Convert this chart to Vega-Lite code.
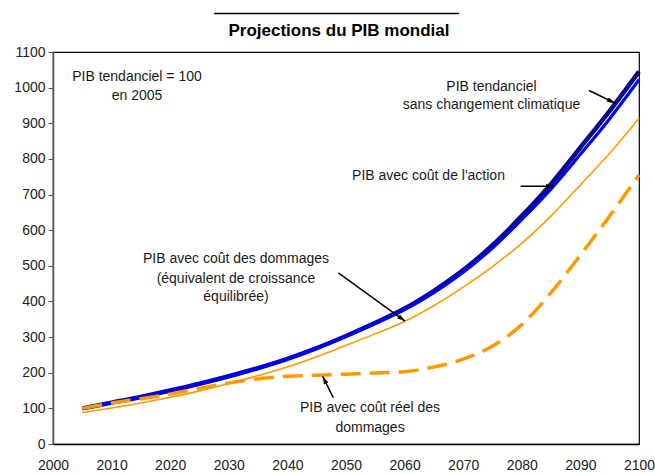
{
  "$schema": "https://vega.github.io/schema/vega-lite/v6.json",
  "width": 586,
  "height": 392,
  "autosize": {"type": "none"},
  "padding": {"left": 53, "top": 52, "right": 16, "bottom": 31},
  "background": "white",
  "config": {
    "font": "Liberation Sans",
    "view": {"stroke": "#000000", "strokeWidth": 1.2}
  },
  "datasets": {
    "pib": [
      {"year": 2005, "tend": 100, "action": 100, "dommages": 88, "reel": 100},
      {"year": 2010, "tend": 116, "action": 116, "dommages": 101, "reel": 115},
      {"year": 2015, "tend": 132, "action": 132, "dommages": 115, "reel": 127},
      {"year": 2020, "tend": 150, "action": 150, "dommages": 131, "reel": 140},
      {"year": 2025, "tend": 169, "action": 169, "dommages": 149, "reel": 156},
      {"year": 2030, "tend": 190, "action": 190, "dommages": 170, "reel": 171},
      {"year": 2035, "tend": 213, "action": 213, "dommages": 192, "reel": 183},
      {"year": 2040, "tend": 239, "action": 239, "dommages": 216, "reel": 190},
      {"year": 2045, "tend": 269, "action": 269, "dommages": 245, "reel": 193},
      {"year": 2050, "tend": 303, "action": 302, "dommages": 277, "reel": 196},
      {"year": 2055, "tend": 340, "action": 338, "dommages": 309, "reel": 199},
      {"year": 2060, "tend": 380, "action": 377, "dommages": 344, "reel": 203},
      {"year": 2065, "tend": 430, "action": 425, "dommages": 388, "reel": 216},
      {"year": 2070, "tend": 488, "action": 482, "dommages": 440, "reel": 238},
      {"year": 2075, "tend": 558, "action": 550, "dommages": 498, "reel": 275},
      {"year": 2080, "tend": 640, "action": 630, "dommages": 563, "reel": 335},
      {"year": 2085, "tend": 730, "action": 716, "dommages": 640, "reel": 425},
      {"year": 2090, "tend": 832, "action": 813, "dommages": 727, "reel": 530},
      {"year": 2095, "tend": 935, "action": 913, "dommages": 816, "reel": 640},
      {"year": 2100, "tend": 1045, "action": 1022, "dommages": 914, "reel": 755}
    ],
    "gridx": [
      {"year": 2010}, {"year": 2020}, {"year": 2030}, {"year": 2040}, {"year": 2050},
      {"year": 2060}, {"year": 2070}, {"year": 2080}, {"year": 2090}
    ],
    "gridy": [
      {"value": 100}, {"value": 200}, {"value": 300}, {"value": 400}, {"value": 500},
      {"value": 600}, {"value": 700}, {"value": 800}, {"value": 900}, {"value": 1000}
    ],
    "labels": [
      {"year": 2014.33, "value": 1029, "label": "PIB tendanciel = 100"},
      {"year": 2014.33, "value": 976, "label": "en 2005"},
      {"year": 2074.83, "value": 1002, "label": "PIB tendanciel"},
      {"year": 2074.83, "value": 950, "label": "sans changement climatique"},
      {"year": 2064.08, "value": 751, "label": "PIB avec coût de l'action"},
      {"year": 2031.23, "value": 520, "label": "PIB avec coût des dommages"},
      {"year": 2031.23, "value": 464, "label": "(équivalent de croissance"},
      {"year": 2031.23, "value": 413, "label": "équilibrée)"},
      {"year": 2054.1, "value": 101, "label": "PIB avec coût réel des"},
      {"year": 2054.1, "value": 45, "label": "dommages"}
    ],
    "heading": [
      {"year": 2048.8, "value": 1146, "label": "Projections du PIB mondial"}
    ],
    "arrows": [
      {"id": "a1", "year": 2091.47, "value": 992, "year2": 2095.9, "value2": 957},
      {"id": "a2", "year": 2079.8, "value": 723, "year2": 2085.5, "value2": 723},
      {"id": "a3", "year": 2048.69, "value": 480, "year2": 2060.07, "value2": 345},
      {"id": "a4", "year": 2047.83, "value": 130, "year2": 2046.02, "value2": 190}
    ],
    "overline": [
      {"year": 2027.5, "year2": 2069.3, "value": 1208}
    ]
  },
  "data": {"name": "pib"},
  "transform": [
    {"fold": ["tend", "action", "dommages", "reel"], "as": ["series", "value"]}
  ],
  "encoding": {
    "x": {
      "field": "year",
      "type": "quantitative",
      "scale": {"domain": [2000, 2100], "nice": false, "zero": false},
      "axis": {
        "values": [2000, 2010, 2020, 2030, 2040, 2050, 2060, 2070, 2080, 2090, 2100],
        "format": "d",
        "title": null,
        "grid": false,
        "zindex": 1,
        "labelOverlap": false,
        "labelFlush": false,
        "labelFont": "Liberation Sans",
        "labelFontSize": 14,
        "labelColor": "#222222",
        "tickSize": 0,
        "domainColor": "#000000",
        "domainWidth": 1.5,
        "labelPadding": 14
      }
    },
    "y": {
      "field": "value",
      "type": "quantitative",
      "scale": {"domain": [0, 1100], "nice": false},
      "axis": {
        "values": [0, 100, 200, 300, 400, 500, 600, 700, 800, 900, 1000, 1100],
        "format": "d",
        "title": null,
        "grid": false,
        "zindex": 1,
        "labelOverlap": false,
        "labelFlush": false,
        "labelFont": "Liberation Sans",
        "labelFontSize": 14,
        "labelColor": "#222222",
        "tickSize": 5,
        "tickColor": "#555555",
        "domainColor": "#555555",
        "domainWidth": 1.5,
        "labelPadding": 3
      }
    }
  },
  "layer": [
    {
      "transform": [{"filter": "datum.series == 'tend'"}],
      "mark": {"type": "line", "color": "#0c0c80", "strokeWidth": 4.5, "interpolate": "monotone"}
    },
    {
      "transform": [{"filter": "datum.series == 'action'"}],
      "mark": {"type": "line", "color": "#0000ff", "strokeWidth": 3.2, "interpolate": "monotone"}
    },
    {
      "transform": [{"filter": "datum.series == 'dommages'"}],
      "mark": {"type": "line", "color": "#ff9900", "strokeWidth": 1.6, "interpolate": "monotone"}
    },
    {
      "transform": [{"filter": "datum.series == 'reel'"}],
      "mark": {"type": "line", "color": "#ff9900", "strokeWidth": 3.5, "strokeDash": [20, 9], "interpolate": "monotone"}
    },
    {
      "data": {"name": "gridx"},
      "mark": {"type": "rule", "color": "#bdbdbd", "strokeWidth": 1.5, "opacity": 0.9},
      "encoding": {
        "y": {"datum": 0, "type": "quantitative"},
        "y2": {"datum": 1100}
      }
    },
    {
      "data": {"name": "gridy"},
      "mark": {"type": "rule", "color": "#bdbdbd", "strokeWidth": 1.5, "opacity": 0.9},
      "encoding": {
        "x": {"datum": 2000, "type": "quantitative"},
        "x2": {"datum": 2100}
      }
    },
    {
      "data": {"name": "labels"},
      "mark": {"type": "text", "font": "Liberation Sans", "fontSize": 14, "color": "#1a1a1a", "align": "center", "baseline": "middle"},
      "encoding": {"text": {"field": "label"}}
    },
    {
      "data": {"name": "heading"},
      "mark": {"type": "text", "font": "Liberation Sans", "fontWeight": "bold", "fontSize": 17, "color": "#000000", "align": "center", "baseline": "alphabetic"},
      "encoding": {"text": {"field": "label"}}
    },
    {
      "data": {"name": "arrows"},
      "mark": {"type": "rule", "color": "#000000", "strokeWidth": 1.5},
      "encoding": {
        "x2": {"field": "year2"},
        "y2": {"field": "value2"}
      }
    },
    {
      "data": {"name": "arrows"},
      "transform": [{"filter": "datum.id == 'a1'"}],
      "mark": {"type": "point", "shape": "M0,0L0.6,2L-0.6,2Z", "filled": true, "color": "#000000", "opacity": 1, "size": 64, "angle": 115},
      "encoding": {
        "x": {"field": "year2", "type": "quantitative"},
        "y": {"field": "value2", "type": "quantitative"}
      }
    },
    {
      "data": {"name": "arrows"},
      "transform": [{"filter": "datum.id == 'a2'"}],
      "mark": {"type": "point", "shape": "M0,0L0.6,2L-0.6,2Z", "filled": true, "color": "#000000", "opacity": 1, "size": 64, "angle": 90},
      "encoding": {
        "x": {"field": "year2", "type": "quantitative"},
        "y": {"field": "value2", "type": "quantitative"}
      }
    },
    {
      "data": {"name": "arrows"},
      "transform": [{"filter": "datum.id == 'a3'"}],
      "mark": {"type": "point", "shape": "M0,0L0.6,2L-0.6,2Z", "filled": true, "color": "#000000", "opacity": 1, "size": 64, "angle": 126},
      "encoding": {
        "x": {"field": "year2", "type": "quantitative"},
        "y": {"field": "value2", "type": "quantitative"}
      }
    },
    {
      "data": {"name": "arrows"},
      "transform": [{"filter": "datum.id == 'a4'"}],
      "mark": {"type": "point", "shape": "M0,0L0.6,2L-0.6,2Z", "filled": true, "color": "#000000", "opacity": 1, "size": 64, "angle": 334},
      "encoding": {
        "x": {"field": "year2", "type": "quantitative"},
        "y": {"field": "value2", "type": "quantitative"}
      }
    },
    {
      "data": {"name": "overline"},
      "mark": {"type": "rule", "color": "#000000", "strokeWidth": 1.3},
      "encoding": {
        "x2": {"field": "year2"}
      }
    }
  ]
}
